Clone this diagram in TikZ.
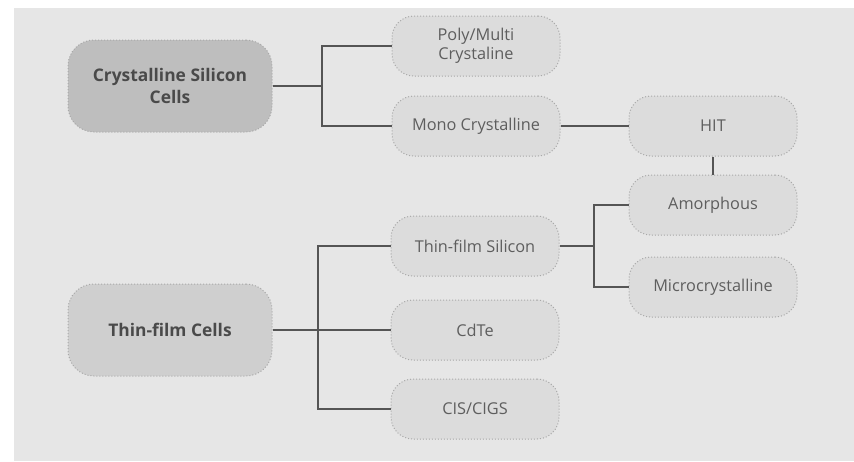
\documentclass[tikz,border=0pt]{standalone}
\usepackage{fontspec}
\setmainfont{Open Sans}
\definecolor{panel}{HTML}{E6E6E6}
\definecolor{boxfill}{HTML}{DCDCDC}
\definecolor{boxedge}{HTML}{A8A8A8}
\definecolor{bigfillA}{HTML}{BEBEBE}
\definecolor{bigfillB}{HTML}{CFCFCF}
\definecolor{linecol}{HTML}{555555}
\definecolor{txt}{HTML}{5E5E5E}
\definecolor{bigtxt}{HTML}{4A4A4A}
\begin{document}
\begin{tikzpicture}[x=1pt,y=-1pt,
  smallbox/.style={draw=boxedge, dotted, line width=1pt, fill=boxfill, rounded corners=22pt,
    minimum width=168pt, minimum height=60pt, align=center, text=txt,
    font=\fontsize{16.3}{19}\selectfont},
  bigbox/.style={draw=boxedge, dotted, line width=1pt, rounded corners=26pt,
    minimum width=204pt, minimum height=92pt, align=center, text=bigtxt,
    font=\fontsize{17.4}{22}\selectfont\bfseries},
  conn/.style={draw=linecol, line width=2.6pt}]
\useasboundingbox (0,0) rectangle (854,461);
\fill[white] (0,0) rectangle (854,461);
\fill[panel] (14,8) rectangle (854,461);

\node[bigbox, fill=bigfillA] (cs) at (170,86) {Crystalline Silicon\\Cells};
\node[bigbox, fill=bigfillB] (tfc) at (170,330) {Thin-film Cells};

\node[smallbox] (poly) at (476,46) {Poly/Multi\\Crystaline};
\node[smallbox] (mono) at (476,126) {Mono Crystalline};
\node[smallbox] (hit) at (713,126) {HIT};
\node[smallbox] (amo) at (713,205) {Amorphous};
\node[smallbox] (micro) at (713,287) {Microcrystalline};
\node[smallbox] (tfs) at (475,246) {Thin-film Silicon};
\node[smallbox] (cdte) at (475,330) {CdTe};
\node[smallbox] (cis) at (475,409) {CIS/CIGS};

\coordinate (busA) at (322,0);
\coordinate (busB) at (318,0);
\coordinate (busC) at (594,0);

\draw[conn] (cs.east) -- (cs.east -| busA);
\draw[conn] (poly.west) -| (busA |- mono.west) -- (mono.west);
\draw[conn] (mono.east) -- (hit.west);
\draw[conn] (hit.south) -- (amo.north);
\draw[conn] (tfs.east) -- (tfs.east -| busC);
\draw[conn] (amo.west) -| (busC |- micro.west) -- (micro.west);
\draw[conn] (tfc.east) -- (cdte.west);
\draw[conn] (tfs.west) -| (busB |- cis.west) -- (cis.west);
\end{tikzpicture}
\end{document}
